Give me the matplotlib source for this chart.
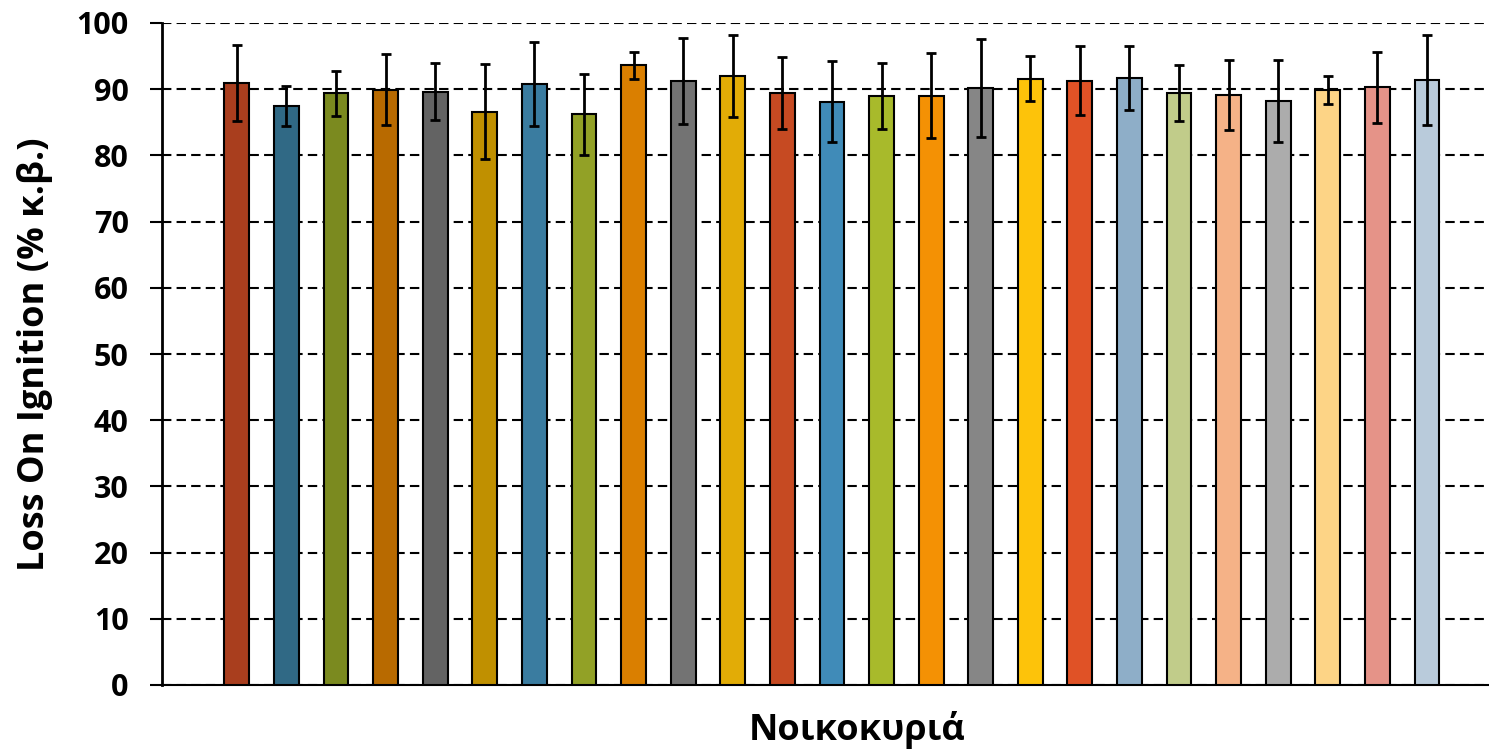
import matplotlib
matplotlib.use("Agg")
import matplotlib.pyplot as plt
import numpy as np

plt.rcParams['font.family'] = ['Open Sans', 'DejaVu Sans']

# mean LOI per household and its std
loi = [90.9, 87.5, 89.4, 89.9, 89.6, 86.6, 90.8, 86.2, 93.6, 91.2, 92.0, 89.4, 88.1,
       89.0, 89.0, 90.2, 91.6, 91.3, 91.7, 89.4, 89.1, 88.2, 89.9, 90.3, 91.4]
loi_err = [5.75, 3.0, 3.4, 5.35, 4.3, 7.2, 6.35, 6.15, 2.0, 6.5, 6.25, 5.45, 6.1,
           5.0, 6.4, 7.45, 3.45, 5.25, 4.85, 4.25, 5.25, 6.15, 2.1, 5.35, 6.75]
colors = ['#A93E1E', '#306985', '#7B8A1F', '#B86A00', '#636363', '#C09000', '#3A7CA0',
          '#92A126', '#DA7F00', '#737373', '#E2AC06', '#C64A22', '#408BB8', '#A8BA2B',
          '#F49104', '#868686', '#FDC30A', '#E05226', '#8EAEC8', '#C1CC8A', '#F5B287',
          '#ACACAC', '#FDD486', '#E59388', '#B9CBDB']
yticks = list(range(0, 101, 10))

fig = plt.figure(figsize=(14.89, 7.54), dpi=100)
ax = fig.add_axes([162 / 1489, 1 - 685 / 754, (1489 - 162) / 1489, (685 - 23) / 754])

x = np.arange(len(loi))
ax.bar(x, loi, width=0.5, color=colors, edgecolor='black', linewidth=1.5, zorder=3)
ax.errorbar(x, loi, yerr=loi_err, fmt='none', ecolor='black', elinewidth=2,
            capsize=3.8, capthick=2, zorder=4)

ax.set_xlim(-1.51, 25.25)
ax.set_ylim(0, 100)
ax.set_yticks(yticks)
ax.set_xticks([])
ax.yaxis.grid(True, linestyle=(0, (4.5, 2.5)), color='black', linewidth=1.5, zorder=0)
ax.tick_params(axis='y', direction='out', length=9, width=1.5, labelsize=22, pad=15)
for lbl in ax.get_yticklabels():
    lbl.set_fontweight('bold')

for side in ['top', 'right']:
    ax.spines[side].set_visible(False)
ax.spines['left'].set_linewidth(2)
ax.spines['bottom'].set_linewidth(1.5)

fig.text(35 / 1489, 1 - 354 / 754, 'Loss On Ignition (% κ.β.)', fontsize=26,
         fontweight='bold', rotation=90, ha='center', va='center')
fig.text(857 / 1489, 1 - 730 / 754, 'Νοικοκυριά', fontsize=26,
         fontweight='bold', ha='center', va='center')

fig.savefig('out.png', dpi=100)
